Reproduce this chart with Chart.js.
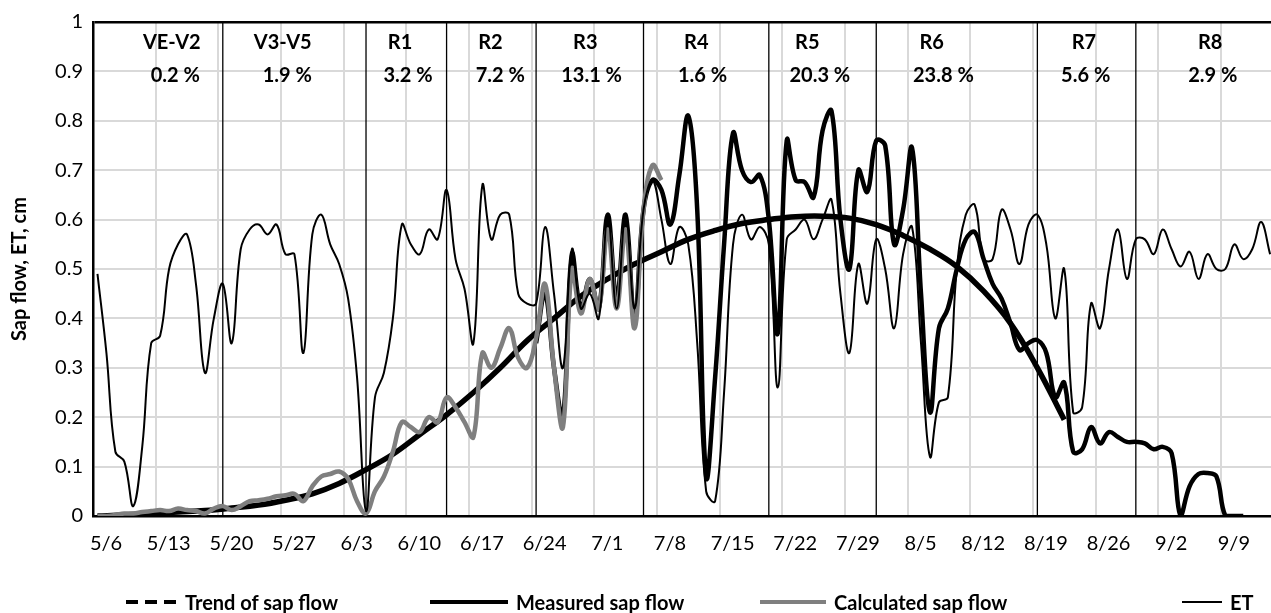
<!DOCTYPE html>
<html>
<head>
<meta charset="utf-8">
<script src="https://cdn.jsdelivr.net/npm/chart.js@4.4.1/dist/chart.umd.min.js"></script>
<style>
  html, body { margin: 0; padding: 0; background: #fff; }
  #wrap { position: relative; width: 1271px; height: 613px; overflow: hidden; }
  #chart { position: absolute; left: 0; top: 0; }
  .legend { position: absolute; left: 0; top: 590px; width: 1271px; height: 24px;
            font: bold 20px Lato, sans-serif; color: #000; }
  .item { position: absolute; top: 0; height: 24px; display: flex; align-items: center; white-space: nowrap; }
  .item svg { margin-right: 8px; }
</style>
</head>
<body>
<div id="wrap">
  <canvas id="chart" width="1271" height="613"></canvas>
  <div class="legend">
    <div class="item" style="left:125px"><svg width="52" height="8"><line x1="1" y1="4" x2="51" y2="4" stroke="#000" stroke-width="4" stroke-dasharray="12 7"/></svg>Trend of sap flow</div>
    <div class="item" style="left:430px"><svg width="78" height="8"><line x1="0" y1="4" x2="78" y2="4" stroke="#000" stroke-width="4"/></svg>Measured sap flow</div>
    <div class="item" style="left:760px"><svg width="66" height="8"><line x1="0" y1="4" x2="66" y2="4" stroke="#7f7f7f" stroke-width="4"/></svg>Calculated sap flow</div>
    <div class="item" style="left:1182px"><svg width="40" height="8"><line x1="0" y1="4" x2="40" y2="4" stroke="#000" stroke-width="2"/></svg>ET</div>
  </div>
</div>
<script>
// Days are counted from 5/6 (day 0); one value per day.
const dateLabels = ['5/6','5/13','5/20','5/27','6/3','6/10','6/17','6/24','7/1','7/8',
                    '7/15','7/22','7/29','8/5','8/12','8/19','8/26','9/2','9/9'];
const yTickLabels = ['0','0.1','0.2','0.3','0.4','0.5','0.6','0.7','0.8','0.9','1'];

// Daily evapotranspiration, cm (day 0 .. 131)
const etValues = [
  0.49,0.33,0.13,0.11,0.02,0.14,0.35,0.365,0.50,0.55,
  0.57,0.47,0.29,0.40,0.47,0.35,0.54,0.58,0.59,0.57,
  0.59,0.53,0.53,0.33,0.57,0.61,0.55,0.51,0.44,0.28,
  0.01,0.24,0.29,0.40,0.59,0.55,0.53,0.58,0.56,0.66,
  0.52,0.46,0.35,0.67,0.56,0.61,0.61,0.45,0.43,0.43,
  0.585,0.45,0.30,0.54,0.42,0.45,0.40,0.61,0.42,0.61,
  0.42,0.62,0.68,0.60,0.51,0.585,0.55,0.35,0.05,0.03,
  0.25,0.55,0.61,0.56,0.585,0.55,0.26,0.56,0.58,0.60,
  0.56,0.60,0.64,0.45,0.33,0.51,0.43,0.56,0.50,0.38,
  0.53,0.585,0.35,0.12,0.23,0.24,0.50,0.61,0.63,0.52,
  0.52,0.62,0.58,0.51,0.59,0.61,0.55,0.40,0.50,0.21,
  0.22,0.43,0.38,0.50,0.58,0.48,0.56,0.56,0.53,0.58,
  0.54,0.505,0.535,0.48,0.53,0.50,0.50,0.55,0.52,0.54,
  0.595,0.53
];

// Calculated sap flow, cm (day 0 .. 63)
const calcValues = [
  0.0,0.0,0.002,0.005,0.005,0.008,0.01,0.012,0.01,0.015,
  0.012,0.01,0.005,0.015,0.02,0.012,0.02,0.03,0.032,0.035,
  0.04,0.042,0.045,0.03,0.06,0.08,0.085,0.09,0.075,0.03,
  0.005,0.05,0.08,0.13,0.19,0.18,0.17,0.20,0.19,0.24,
  0.22,0.19,0.16,0.33,0.30,0.34,0.38,0.32,0.30,0.36,
  0.47,0.30,0.18,0.50,0.41,0.48,0.42,0.58,0.42,0.58,
  0.38,0.62,0.71,0.68
];

// Measured sap flow, cm (day 49 .. 128)
const measuredStart = 49;
const measuredValues = [
  0.35,0.45,0.30,0.20,0.53,0.42,0.48,0.42,0.61,0.44,
  0.61,0.40,0.62,0.68,0.66,0.59,0.69,0.81,0.62,0.08,
  0.28,0.55,0.775,0.70,0.676,0.69,0.60,0.37,0.76,0.68,
  0.676,0.645,0.78,0.82,0.60,0.50,0.70,0.656,0.76,0.75,
  0.55,0.62,0.745,0.45,0.21,0.38,0.42,0.50,0.56,0.575,
  0.52,0.47,0.44,0.39,0.336,0.35,0.356,0.33,0.24,0.27,
  0.13,0.135,0.18,0.147,0.17,0.16,0.15,0.15,0.147,0.135,
  0.14,0.127,0.0,0.06,0.085,0.087,0.08,0.0,0.0,0.0
];

// Fitted trend of sap flow (day, cm)
const trendDays   = [0,3,6,9,12,15,18,21,24,27,30,33,36,39,42,45,48,51,54,57,60,63,66,69,72,75,78,81,84,87,90,93,96,99,102,105,108];
const trendValues = [0.0,0.002,0.005,0.008,0.011,0.016,0.022,0.032,0.045,0.066,0.094,0.125,0.165,0.205,0.25,0.30,0.355,0.40,0.445,0.48,0.51,0.535,0.56,0.578,0.592,0.60,0.606,0.607,0.603,0.59,0.568,0.54,0.505,0.455,0.39,0.30,0.195];

// Growth stages: first day of each stage after VE-V2, and share of seasonal sap flow (%)
const stageNames  = ['VE-V2','V3-V5','R1','R2','R3','R4','R5','R6','R7','R8'];
const stageShares = [0.2, 1.9, 3.2, 7.2, 13.1, 1.6, 20.3, 23.8, 5.6, 2.9];
const stageStarts = [14, 30, 39, 49, 61, 75, 87, 105, 116];

// Where the stage captions sit along the date axis (in days)
const nameAt  = [8.3, 20.7, 33.8, 43.9, 54.5, 66.9, 79.3, 93.2, 110.2, 124.3];
const shareAt = [8.7, 21.2, 34.7, 45.0, 55.2, 67.6, 80.7, 94.5, 110.4, 124.6];

const FONT = 'Lato, sans-serif';

const series = (vals, start) => vals.map((v, i) => ({ x: start + i, y: v }));

const stageLineSets = stageStarts.map(d => ({
  label: 'stage',
  data: [{ x: d, y: 0 }, { x: d, y: 1 }],
  borderColor: '#000', borderWidth: 1.3, pointRadius: 0, tension: 0, order: 5
}));

const stageCaptions = {
  id: 'stageCaptions',
  afterDatasetsDraw(chart) {
    const { ctx, scales: { x, y } } = chart;
    ctx.save();
    ctx.font = 'bold 20px ' + FONT;
    ctx.fillStyle = '#000';
    ctx.textAlign = 'center';
    ctx.textBaseline = 'middle';
    stageNames.forEach((name, i) => {
      ctx.fillText(name, x.getPixelForValue(nameAt[i]), y.getPixelForValue(0.9575));
      ctx.fillText(stageShares[i].toFixed(1) + ' %', x.getPixelForValue(shareAt[i]), y.getPixelForValue(0.8907));
    });
    ctx.restore();
  }
};

new Chart(document.getElementById('chart'), {
  type: 'line',
  data: {
    datasets: [
      { label: 'ET', data: series(etValues, 0), borderColor: '#000', borderWidth: 2,
        pointRadius: 0, tension: 0.4, order: 0 },
      { label: 'Calculated sap flow', data: series(calcValues, 0), borderColor: '#7f7f7f', borderWidth: 4.5,
        pointRadius: 0, tension: 0.4, order: 1 },
      { label: 'Measured sap flow', data: series(measuredValues, measuredStart), borderColor: '#000', borderWidth: 4.5,
        pointRadius: 0, tension: 0.4, order: 2 },
      { label: 'Trend of sap flow', data: trendDays.map((d, i) => ({ x: d, y: trendValues[i] })),
        borderColor: '#000', borderWidth: 5.5, pointRadius: 0, tension: 0.4, order: 3 },
      ...stageLineSets
    ]
  },
  options: {
    responsive: false,
    animation: false,
    devicePixelRatio: 1,
    layout: { padding: { top: 22, right: 0, left: 0, bottom: 0 } },
    plugins: { legend: { display: false }, tooltip: { enabled: false } },
    scales: {
      x: {
        type: 'linear', min: -0.5, max: 131.1,
        afterBuildTicks: s => { s.ticks = dateLabels.map((_, i) => ({ value: -0.5 + 7 * i })); },
        afterFit: s => { s.height = 97; },
        ticks: { autoSkip: false, maxRotation: 0, padding: 16, labelOffset: 13, color: '#000',
                 font: { family: FONT, size: 20 },
                 callback: (v, i) => dateLabels[i] },
        grid: { color: '#d9d9d9', lineWidth: 2, drawTicks: false },
        border: { color: '#000', width: 2.5 }
      },
      y: {
        min: 0, max: 1,
        afterBuildTicks: s => { s.ticks = yTickLabels.map((_, i) => ({ value: i / 10 })); },
        afterFit: s => { s.width = 93; },
        ticks: { padding: 10, color: '#000', font: { family: FONT, size: 20 },
                 callback: (v, i) => yTickLabels[i] },
        grid: { color: c => (c.tick && c.tick.value === 1 ? '#000' : '#d9d9d9'),
                lineWidth: c => (c.tick && c.tick.value === 1 ? 2.5 : 2), drawTicks: false },
        border: { color: '#000', width: 2.5 },
        title: { display: true, text: 'Sap flow, ET, cm', color: '#000',
                 font: { family: FONT, size: 20, weight: 'bold' }, padding: { top: 8, bottom: 0 } }
      }
    }
  },
  plugins: [stageCaptions]
});
</script>
</body>
</html>
